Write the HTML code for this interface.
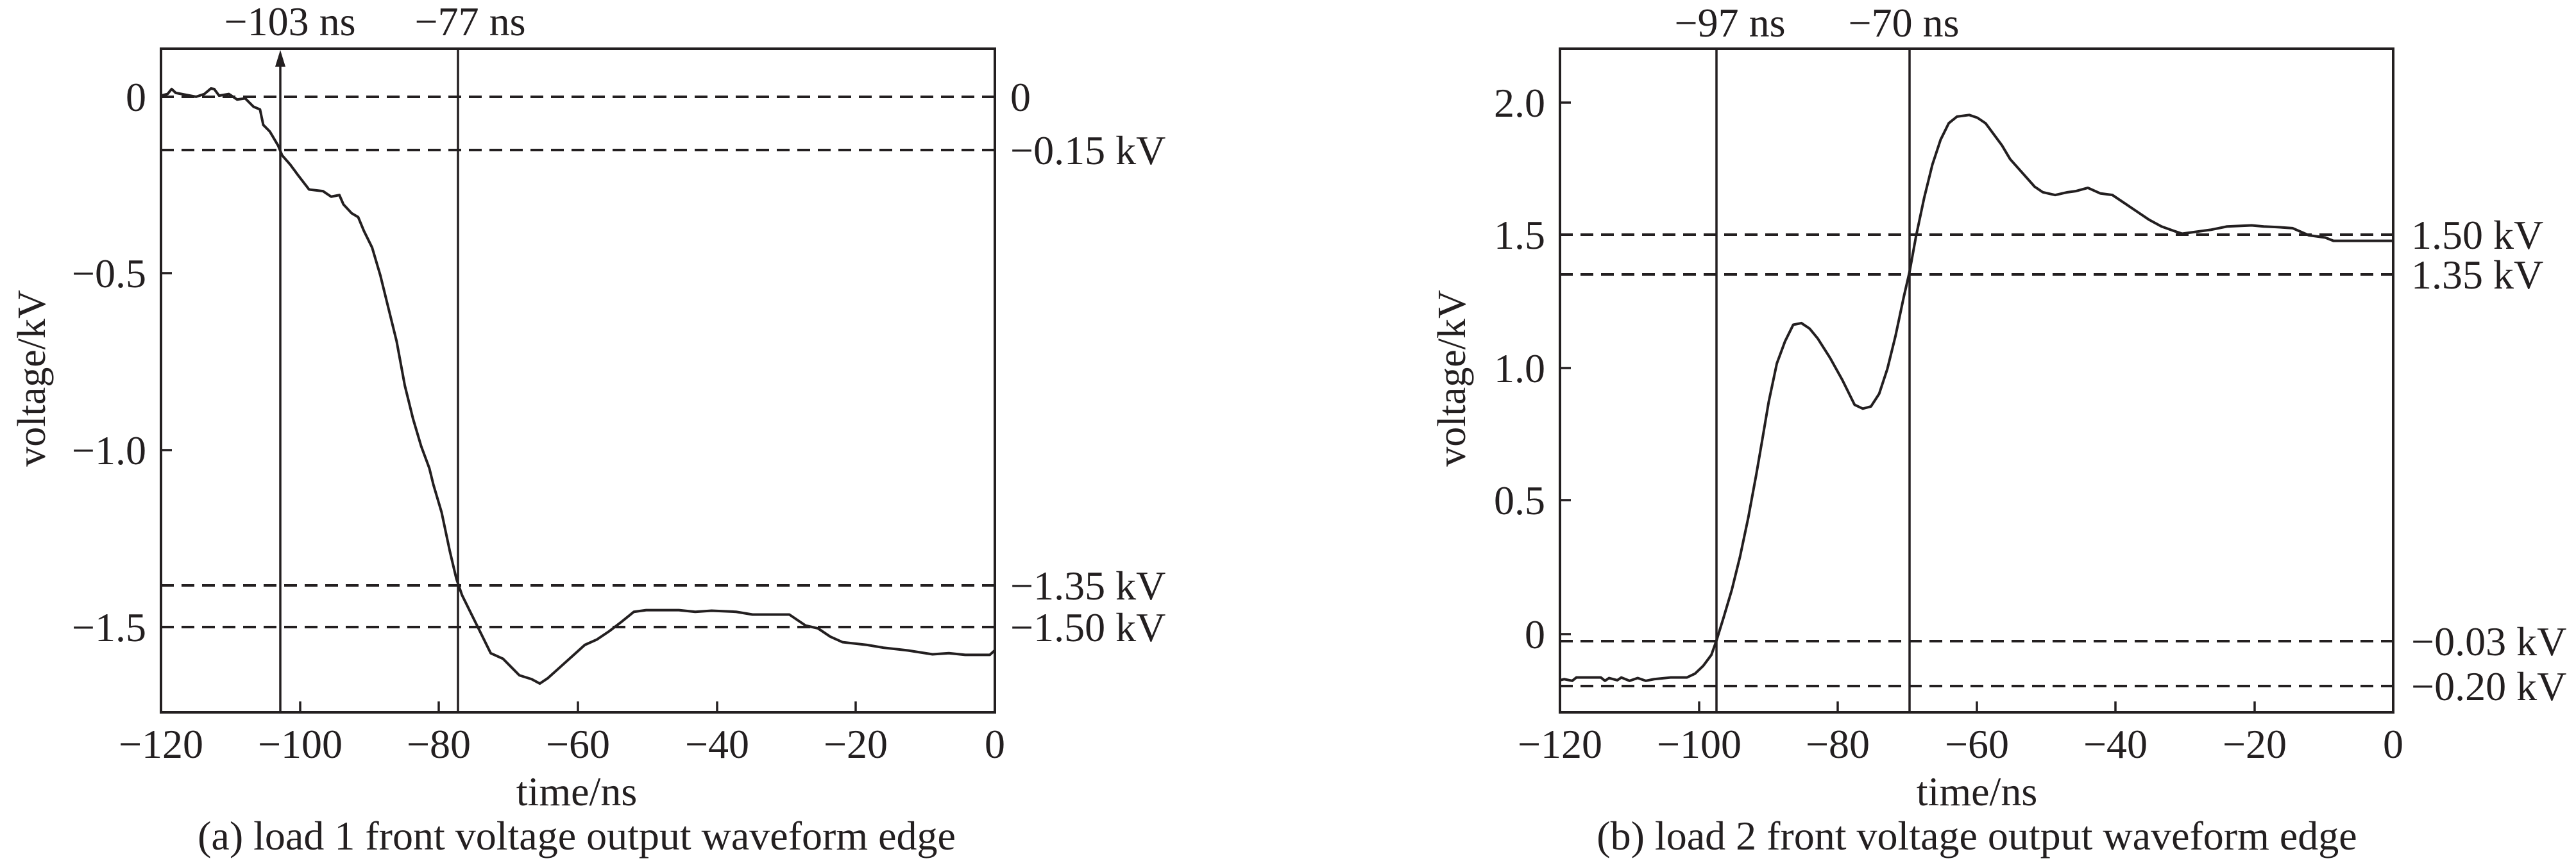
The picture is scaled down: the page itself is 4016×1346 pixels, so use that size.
<!DOCTYPE html>
<html><head><meta charset="utf-8"><style>
html,body{margin:0;padding:0;background:#fff}
svg{display:block}
text{font-family:"Liberation Serif",serif;fill:#231f20}
</style></head><body>
<svg width="4016" height="1346" viewBox="0 0 4016 1346" xmlns="http://www.w3.org/2000/svg">
<g stroke="#231f20" fill="none">
<!-- Chart A -->
<rect x="251" y="76" width="1300" height="1035" stroke-width="4"/>
<g stroke-width="4" stroke-dasharray="20 12">
<line x1="251" y1="151" x2="1551" y2="151"/>
<line x1="251" y1="234" x2="1551" y2="234"/>
<line x1="251" y1="913" x2="1551" y2="913"/>
<line x1="251" y1="978" x2="1551" y2="978"/>
</g>
<g stroke-width="3.5">
<line x1="437" y1="90" x2="437" y2="1111"/>
<line x1="714" y1="76" x2="714" y2="1111"/>
<line x1="251" y1="151" x2="268" y2="151"/><line x1="251" y1="426" x2="268" y2="426"/>
<line x1="251" y1="702" x2="268" y2="702"/><line x1="251" y1="978" x2="268" y2="978"/>
<line x1="468" y1="1111" x2="468" y2="1094"/><line x1="684" y1="1111" x2="684" y2="1094"/>
<line x1="901" y1="1111" x2="901" y2="1094"/><line x1="1118" y1="1111" x2="1118" y2="1094"/>
<line x1="1334" y1="1111" x2="1334" y2="1094"/>
</g>
<polygon points="437,78 429,104 445,104" fill="#231f20" stroke="none"/>
<path vector-effect="non-scaling-stroke" stroke-width="4" stroke-linejoin="round" transform="translate(251 76) scale(1.2755 0.8610) translate(-197 -90)" d="M197,175 L205,172 210,163 215,170 240,177 250,172 258,162 262,163 268,175 280,172 290,182 300,180 310,195 318,200 322,228 330,240 340,265 345,283 355,300 365,320 378,345 395,348 405,358 415,355 420,372 425,380 430,388 438,395 445,420 455,450 465,500 475,560 485,620 495,700 505,760 515,810 525,850 530,880 540,930 550,1000 558,1050 565,1080 575,1110 585,1140 600,1185 615,1195 625,1210 635,1225 650,1232 660,1240 670,1230 685,1210 700,1190 715,1170 730,1160 745,1145 760,1128 775,1110 790,1107 830,1107 850,1110 870,1108 900,1110 920,1115 965,1115 985,1135 1000,1140 1015,1155 1030,1165 1060,1170 1080,1175 1110,1180 1140,1187 1160,1185 1180,1188 1210,1188 1216,1180"/>

<!-- Chart B -->
<rect x="2432" y="76" width="1299" height="1035" stroke-width="4"/>
<g stroke-width="4" stroke-dasharray="20 12">
<line x1="2432" y1="366" x2="3731" y2="366"/>
<line x1="2432" y1="428" x2="3731" y2="428"/>
<line x1="2432" y1="1000" x2="3731" y2="1000"/>
<line x1="2432" y1="1070" x2="3731" y2="1070"/>
</g>
<g stroke-width="3.5">
<line x1="2676" y1="76" x2="2676" y2="1111"/>
<line x1="2977" y1="76" x2="2977" y2="1111"/>
<line x1="2432" y1="160" x2="2449" y2="160"/><line x1="2432" y1="366" x2="2449" y2="366"/>
<line x1="2432" y1="574" x2="2449" y2="574"/><line x1="2432" y1="780" x2="2449" y2="780"/>
<line x1="2432" y1="989" x2="2449" y2="989"/>
<line x1="2649" y1="1111" x2="2649" y2="1094"/><line x1="2865" y1="1111" x2="2865" y2="1094"/>
<line x1="3082" y1="1111" x2="3082" y2="1094"/><line x1="3298" y1="1111" x2="3298" y2="1094"/>
<line x1="3515" y1="1111" x2="3515" y2="1094"/>
</g>
<path vector-effect="non-scaling-stroke" stroke-width="4" stroke-linejoin="round" transform="translate(2432 76) scale(1.276 0.861) translate(-325 -90)" d="M325,1234 L330,1232 340,1235 345,1229 375,1229 380,1235 385,1230 395,1234 400,1229 410,1235 420,1230 430,1235 440,1232 460,1229 480,1229 490,1222 500,1208 510,1188 516,1163 525,1120 535,1070 545,1010 555,940 565,860 572,800 580,730 590,660 600,620 610,590 620,587 630,597 640,615 655,650 670,690 685,735 695,742 705,738 715,715 725,670 735,610 745,540 752,495 760,430 770,360 780,300 790,255 800,225 810,213 825,210 835,215 845,225 855,245 865,265 875,290 890,315 905,340 915,350 930,355 945,350 955,348 970,342 985,352 1000,355 1015,370 1030,385 1045,400 1060,412 1075,420 1085,425 1100,422 1120,418 1140,412 1170,410 1185,412 1200,413 1220,415 1240,428 1260,432 1270,438 1343,438"/>
</g>

<g font-size="64">
<text x="452" y="55" text-anchor="middle">−103 ns</text>
<text x="733" y="55" text-anchor="middle">−77 ns</text>
<g text-anchor="end">
<text x="228" y="173">0</text>
<text x="228" y="448">−0.5</text>
<text x="228" y="724">−1.0</text>
<text x="228" y="1000">−1.5</text>
</g>
<text x="1575" y="173">0</text>
<text x="1575" y="256">−0.15 kV</text>
<text x="1575" y="935">−1.35 kV</text>
<text x="1575" y="1000">−1.50 kV</text>
<g text-anchor="middle">
<text x="251" y="1182">−120</text><text x="468" y="1182">−100</text><text x="684" y="1182">−80</text>
<text x="901" y="1182">−60</text><text x="1118" y="1182">−40</text><text x="1334" y="1182">−20</text>
<text x="1551" y="1182">0</text>
<text x="899" y="1256">time/ns</text>
<text x="899" y="1325">(a) load 1 front voltage output waveform edge</text>
<text transform="translate(70 590) rotate(-90)" font-size="62">voltage/kV</text>
</g>

<text x="2697" y="57" text-anchor="middle">−97 ns</text>
<text x="2968" y="57" text-anchor="middle">−70 ns</text>
<g text-anchor="end">
<text x="2409" y="182">2.0</text>
<text x="2409" y="388">1.5</text>
<text x="2409" y="596">1.0</text>
<text x="2409" y="802">0.5</text>
<text x="2409" y="1011">0</text>
</g>
<text x="3759" y="388">1.50 kV</text>
<text x="3759" y="450">1.35 kV</text>
<text x="3759" y="1022">−0.03 kV</text>
<text x="3759" y="1092">−0.20 kV</text>
<g text-anchor="middle">
<text x="2432" y="1182">−120</text><text x="2649" y="1182">−100</text><text x="2865" y="1182">−80</text>
<text x="3082" y="1182">−60</text><text x="3298" y="1182">−40</text><text x="3515" y="1182">−20</text>
<text x="3731" y="1182">0</text>
<text x="3082" y="1256">time/ns</text>
<text x="3082" y="1325">(b) load 2 front voltage output waveform edge</text>
<text transform="translate(2284 590) rotate(-90)" font-size="62">voltage/kV</text>
</g>
</g>
</svg>
</body></html>
